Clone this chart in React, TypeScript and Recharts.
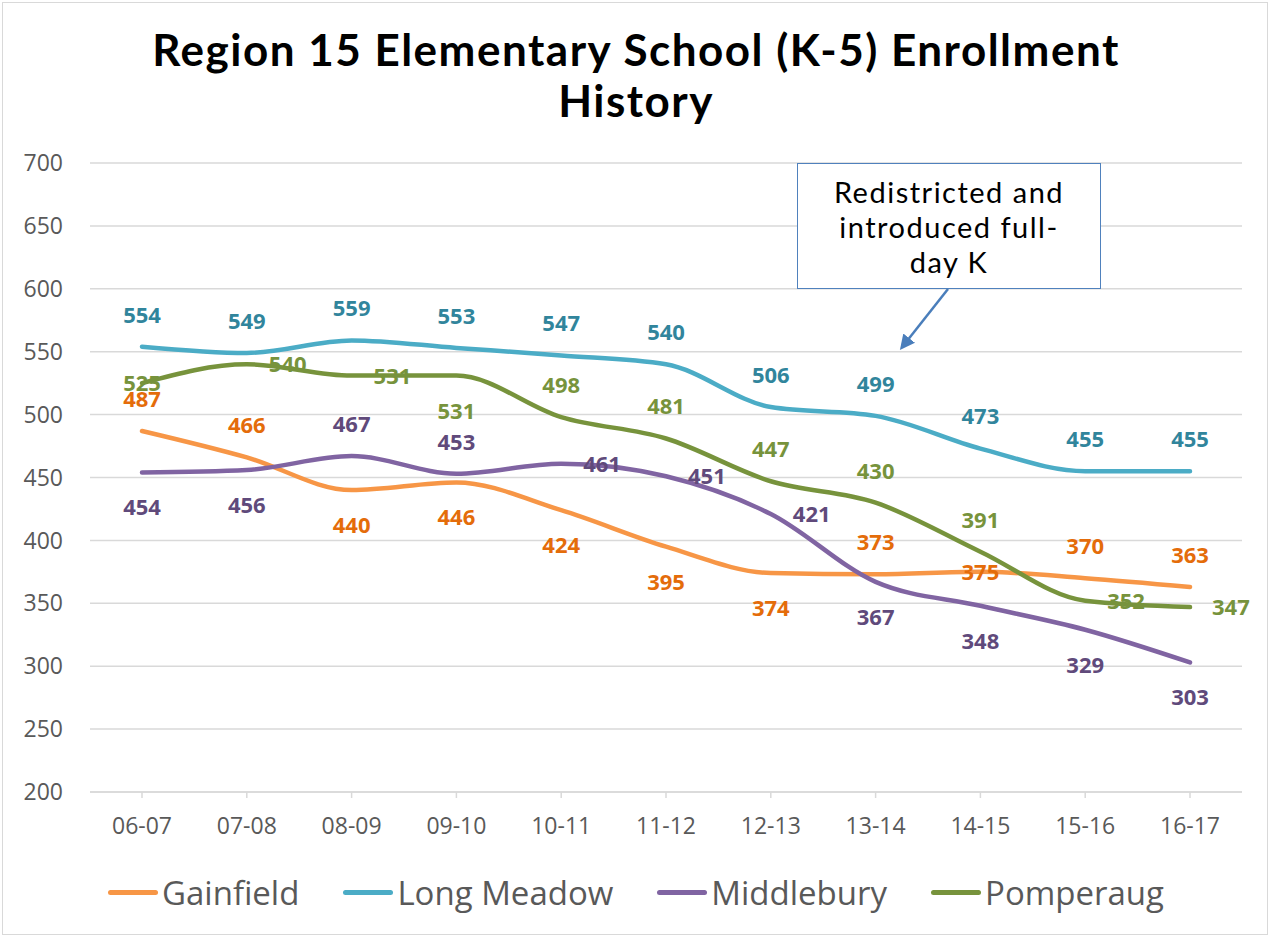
import React from "react";
import { CartesianGrid, Line, LineChart, XAxis, YAxis } from "recharts";

// Enrollment by school year.
const years = ["06-07", "07-08", "08-09", "09-10", "10-11", "11-12", "12-13", "13-14", "14-15", "15-16", "16-17"];
const gainfield = [487, 466, 440, 446, 424, 395, 374, 373, 375, 370, 363];
const longMeadow = [554, 549, 559, 553, 547, 540, 506, 499, 473, 455, 455];
const middlebury = [454, 456, 467, 453, 461, 451, 421, 367, 348, 329, 303];
const pomperaug = [525, 540, 531, 531, 498, 481, 447, 430, 391, 352, 347];
const yTicks = [200, 250, 300, 350, 400, 450, 500, 550, 600, 650, 700];

// where Excel put each data label (t = above, b = below, r = right, c = on the point)
const gainfieldPos = ["t", "t", "b", "b", "b", "b", "b", "t", "c", "t", "t"];
const longMeadowPos = ["t", "t", "t", "t", "t", "t", "t", "t", "t", "t", "t"];
const middleburyPos = ["b", "b", "t", "t", "r", "r", "r", "b", "b", "b", "b"];
const pomperaugPos = ["c", "r", "r", "b", "t", "t", "t", "t", "t", "r", "r"];

const GRID = "#d9d9d9";
const AXIS_TEXT = "#595959";
const FONT = "'Open Sans', sans-serif";

const series = [
  { key: "gainfield", name: "Gainfield", values: gainfield, pos: gainfieldPos, line: "#f79646", label: "#e46c0a" },
  { key: "longMeadow", name: "Long Meadow", values: longMeadow, pos: longMeadowPos, line: "#4bacc6", label: "#31859c" },
  { key: "middlebury", name: "Middlebury", values: middlebury, pos: middleburyPos, line: "#8064a2", label: "#604a7b" },
  { key: "pomperaug", name: "Pomperaug", values: pomperaug, pos: pomperaugPos, line: "#77933c", label: "#77933c" },
];

const data = years.map((y, i) => {
  const row: Record<string, string | number> = { year: y };
  series.forEach((s) => (row[s.key] = s.values[i]));
  return row;
});

function pointLabel(pos: string[], color: string) {
  return (props: any) => {
    const { x, y, value, index } = props;
    const p = pos[index];
    let tx = x;
    let ty = y;
    let anchor: "middle" | "start" = "middle";
    if (p === "t") ty = y - 32;
    else if (p === "b") ty = y + 35;
    else if (p === "r") {
      tx = x + 22;
      anchor = "start";
    }
    return (
      <text
        key={`lbl-${index}`}
        x={tx}
        y={ty}
        dy="0.36em"
        textAnchor={anchor}
        fill={color}
        fontFamily={FONT}
        fontWeight={700}
        fontSize={22}
      >
        {value}
      </text>
    );
  };
}

export default function App() {
  return (
    <div style={{ position: "absolute", left: 0, top: 0, width: 1272, height: 938, background: "#fff" }}>
      <div
        style={{
          position: "absolute",
          left: 2,
          top: 2,
          width: 1266,
          height: 933,
          border: `1.5px solid ${GRID}`,
          boxSizing: "border-box",
        }}
      />
      <div
        style={{
          position: "absolute",
          left: 0,
          top: 24,
          width: 1272,
          textAlign: "center",
          fontFamily: "Lato, sans-serif",
          fontWeight: 700,
          fontSize: 44,
          letterSpacing: 1.5,
          lineHeight: "51px",
          color: "#000",
        }}
      >
        Region 15 Elementary School (K-5) Enrollment
        <br />
        History
      </div>

      <div style={{ position: "absolute", left: 0, top: 0 }}>
        <LineChart width={1272} height={938} data={data} margin={{ top: 163, right: 30, bottom: 116, left: 0 }}>
          <CartesianGrid horizontal vertical={false} stroke={GRID} strokeWidth={1.5} />
          <XAxis
            dataKey="year"
            height={30}
            padding={{ left: 52, right: 52 }}
            axisLine={{ stroke: GRID, strokeWidth: 1.5 }}
            tickLine={{ stroke: GRID, strokeWidth: 1.5 }}
            tickSize={6}
            tickMargin={20}
            tick={{ fill: AXIS_TEXT, fontSize: 23, fontFamily: FONT }}
            interval={0}
          />
          <YAxis
            width={90}
            domain={[200, 700]}
            ticks={yTicks}
            axisLine={false}
            tickLine={false}
            tickMargin={21}
            tick={{ fill: AXIS_TEXT, fontSize: 23, fontFamily: FONT }}
          />
          {series.map((s) => (
            <Line
              key={s.key}
              type="monotone"
              dataKey={s.key}
              name={s.name}
              stroke={s.line}
              strokeWidth={4.5}
              strokeLinecap="round"
              dot={false}
              activeDot={false}
              isAnimationActive={false}
              label={pointLabel(s.pos, s.label)}
            />
          ))}
        </LineChart>
      </div>

      {/* callout */}
      <div
        style={{
          position: "absolute",
          left: 797,
          top: 163,
          width: 304,
          height: 126,
          border: "1.5px solid #4f81bd",
          background: "#fff",
          boxSizing: "border-box",
          display: "flex",
          alignItems: "center",
          justifyContent: "center",
          textAlign: "center",
          fontFamily: "Lato, sans-serif",
          fontSize: 29,
          letterSpacing: 1.5,
          lineHeight: "35px",
          color: "#000",
        }}
      >
        Redistricted and
        <br />
        introduced full-
        <br />
        day K
      </div>
      <svg style={{ position: "absolute", left: 0, top: 0, pointerEvents: "none" }} width={1272} height={938}>
        <defs>
          <marker id="arrow" markerWidth="6" markerHeight="6" refX="4" refY="3" orient="auto">
            <path d="M0,0 L6,3 L0,6 z" fill="#4a7ebb" />
          </marker>
        </defs>
        <line x1={948} y1={289} x2={903} y2={346} stroke="#4a7ebb" strokeWidth={2.5} markerEnd="url(#arrow)" />
      </svg>

      {/* legend */}
      <div
        style={{
          position: "absolute",
          left: 0,
          top: 870,
          width: 1272,
          display: "flex",
          justifyContent: "center",
          gap: 44,
          fontFamily: FONT,
          fontSize: 33,
          color: AXIS_TEXT,
        }}
      >
        {series.map((s) => (
          <div key={s.key} style={{ display: "flex", alignItems: "center" }}>
            <span style={{ display: "inline-block", width: 50, height: 5, borderRadius: 3, background: s.line, marginRight: 4 }} />
            <span>{s.name}</span>
          </div>
        ))}
      </div>
    </div>
  );
}
